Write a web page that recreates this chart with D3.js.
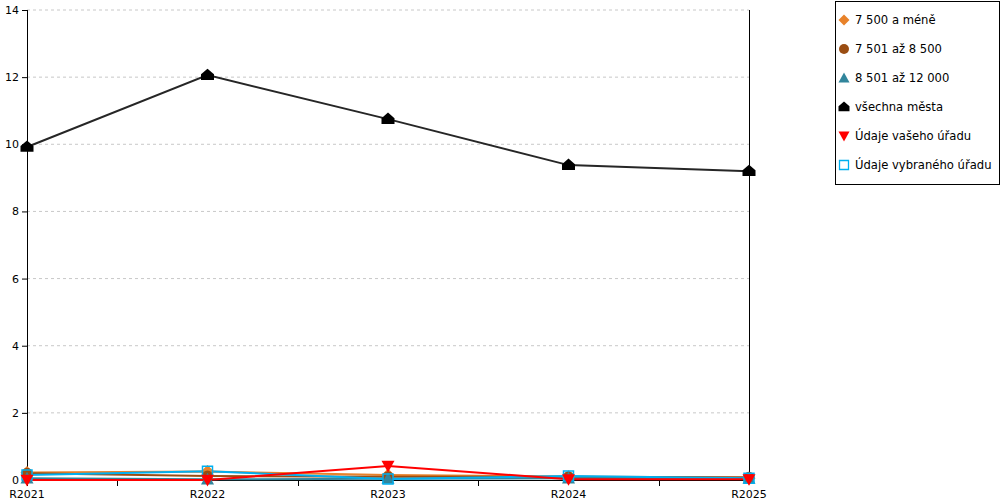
<!DOCTYPE html>
<html><head><meta charset="utf-8">
<script src="https://cdn.jsdelivr.net/npm/d3@7"></script>
<style>body{margin:0;background:#fff}svg{display:block;font-family:"DejaVu Sans",Verdana,sans-serif}</style>
</head><body>
<svg id="c" width="1000" height="500"></svg>
<script>
const categories = ["R2021","R2022","R2023","R2024","R2025"];
const yTicks = [0,2,4,6,8,10,12,14];
const s1 = [0.22,0.25,0.15,0.10,0.05];   // 7 500 a méně
const s2 = [0.20,0.12,0.10,0.10,0.08];   // 7 501 až 8 500
const s3 = [0.05,0.02,0.04,0.05,0.04];   // 8 501 až 12 000
const s4 = [9.92,12.06,10.75,9.38,9.20]; // všechna města
const s5 = [0.00,0.00,0.42,0.02,0.02];   // Údaje vašeho úřadu
const s6 = [0.15,0.26,0.03,0.12,0.05];   // Údaje vybraného úřadu
const names = ["7 500 a méně","7 501 až 8 500","8 501 až 12 000","všechna města","Údaje vašeho úřadu","Údaje vybraného úřadu"];

const series = [
  {name:names[0], values:s1, color:"#e8822a", mcolor:"#e8822a", marker:"diamond"},
  {name:names[1], values:s2, color:"#9a4d12", mcolor:"#9a4d12", marker:"circle"},
  {name:names[2], values:s3, color:"#31859c", mcolor:"#31859c", marker:"triUp"},
  {name:names[5], values:s6, color:"#00b0f0", mcolor:"#00b0f0", marker:"square"},
  {name:names[4], values:s5, color:"#ff0000", mcolor:"#ff0000", marker:"triDown"},
  {name:names[3], values:s4, color:"#262626", mcolor:"#000000", marker:"house"}
];
const legendOrder = [0,1,2,5,4,3];

const svg = d3.select("#c");
const L=27, R=749, T=10, B=480;
const x = d3.scalePoint().domain(categories).range([L,R]);
const y = d3.scaleLinear().domain([0,14]).range([B,T]);

// gridlines
svg.append("g").selectAll("line").data(yTicks.filter(d=>d>0)).join("line")
  .attr("x1",L).attr("x2",R).attr("y1",d=>y(d)).attr("y2",d=>y(d))
  .attr("stroke","#c8c8c8").attr("stroke-dasharray","3,3").attr("stroke-width",1);

// y axis
const ya = svg.append("g").attr("transform",`translate(${L},0)`)
  .call(d3.axisLeft(y).tickValues(yTicks).tickSize(5).tickPadding(3).tickFormat(d3.format("d")));
ya.select(".domain").remove();
ya.selectAll("line").attr("stroke","#000");
ya.selectAll("text").attr("font-size",11).attr("fill","#000").attr("font-family","DejaVu Sans, Verdana, sans-serif");
svg.append("line").attr("x1",L+0.5).attr("x2",L+0.5).attr("y1",T).attr("y2",B+6).attr("stroke","#000");
svg.append("line").attr("x1",R+0.5).attr("x2",R+0.5).attr("y1",T).attr("y2",B).attr("stroke","#000");

// x axis
svg.append("line").attr("x1",L).attr("x2",R).attr("y1",B+0.5).attr("y2",B+0.5).attr("stroke","#000");
const step = x.step();
const mids = categories.slice(0,-1).map(c=>x(c)+step/2);
svg.append("g").selectAll("line").data(mids).join("line")
  .attr("x1",d=>Math.round(d)+0.5).attr("x2",d=>Math.round(d)+0.5).attr("y1",B).attr("y2",B+6).attr("stroke","#000");
svg.append("g").selectAll("text").data(categories).join("text")
  .attr("x",d=>x(d)).attr("y",B+18).attr("text-anchor","middle")
  .attr("font-size",11).attr("fill","#000").text(d=>d);

function markerPath(type, s){
  switch(type){
    case "diamond": return `M0,${-s}L${s},0L0,${s}L${-s},0Z`;
    case "triUp": return `M0,${-s}L${s},${s*0.8}L${-s},${s*0.8}Z`;
    case "triDown": return `M${-s},${-s*0.8}L${s},${-s*0.8}L0,${s}Z`;
    case "square": return `M${-s},${-s}H${s}V${s}H${-s}Z`;
    case "house": return `M0,${-s}L${s},${-s*0.15}V${s*0.75}H${-s}V${-s*0.15}Z`;
  }
}

const line = d3.line().x((d,i)=>x(categories[i])).y(d=>y(d));
series.forEach(s=>{
  svg.append("path").datum(s.values).attr("d",line)
    .attr("fill","none").attr("stroke",s.color).attr("stroke-width",2);
});
series.forEach(s=>{
  const g = svg.append("g");
  s.values.forEach((v,i)=>{
    const cx=x(categories[i]), cy=y(v);
    if(s.marker==="circle"){
      g.append("circle").attr("cx",cx).attr("cy",cy).attr("r",5.5).attr("fill",s.mcolor);
    } else if(s.marker==="square"){
      g.append("path").attr("transform",`translate(${cx},${cy})`).attr("d",markerPath("square",5))
        .attr("fill","none").attr("stroke",s.mcolor).attr("stroke-width",1.5);
    } else {
      g.append("path").attr("transform",`translate(${cx},${cy})`).attr("d",markerPath(s.marker,6.5))
        .attr("fill",s.mcolor);
    }
  });
});

// legend
const lg = svg.append("g");
lg.append("rect").attr("x",835.5).attr("y",1.5).attr("width",164).attr("height",183)
  .attr("fill","#fff").attr("stroke","#000");
legendOrder.forEach((si,k)=>{
  const s = series[si];
  const cy = 20 + k*29;
  const cx = 844;
  if(s.marker==="circle"){
    lg.append("circle").attr("cx",cx).attr("cy",cy).attr("r",5).attr("fill",s.mcolor);
  } else if(s.marker==="square"){
    lg.append("path").attr("transform",`translate(${cx},${cy})`).attr("d",markerPath("square",4.5))
      .attr("fill","none").attr("stroke",s.mcolor).attr("stroke-width",1.3);
  } else {
    lg.append("path").attr("transform",`translate(${cx},${cy})`).attr("d",markerPath(s.marker,5.5)).attr("fill",s.mcolor);
  }
  lg.append("text").attr("x",855).attr("y",cy+4).attr("font-size",11.6).attr("fill","#000").text(s.name);
});
</script>
</body></html>
